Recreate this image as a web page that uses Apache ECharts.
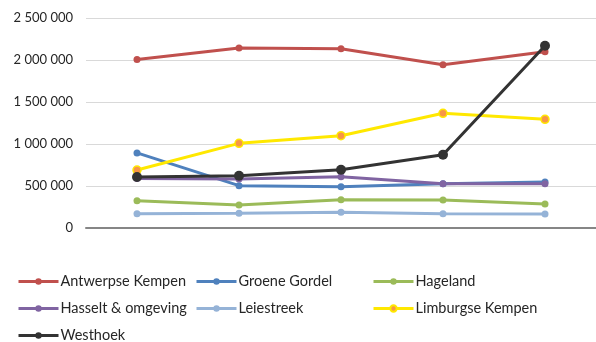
<!DOCTYPE html>
<html>
<head>
<meta charset="utf-8">
<script src="https://cdn.jsdelivr.net/npm/echarts@6/dist/echarts.min.js"></script>
<style>
  html, body { margin: 0; padding: 0; background: #ffffff; }
  #chart { width: 596px; height: 342px; }
</style>
</head>
<body>
<div id="chart"></div>
<script>
// Five periods along the x axis (labels are not shown)
const categories = ['P1', 'P2', 'P3', 'P4', 'P5'];

const yTicks = [0, 500000, 1000000, 1500000, 2000000, 2500000];

const antwerpseKempen = [2006000, 2143000, 2135000, 1944000, 2099000];
const groeneGordel    = [894000, 504000, 492000, 527000, 548000];
const hageland        = [325000, 274000, 337000, 333000, 286000];
const hasseltOmgeving = [588000, 583000, 611000, 527000, 527000];
const leiestreek      = [170000, 175000, 187000, 170000, 167000];
const limburgseKempen = [690000, 1008000, 1099000, 1365000, 1294000];
const westhoek        = [607000, 623000, 694000, 873000, 2170000];

const seriesNames = [
  'Antwerpse Kempen', 'Groene Gordel', 'Hageland',
  'Hasselt & omgeving', 'Leiestreek', 'Limburgse Kempen', 'Westhoek'
];

function fmt(v) {
  return String(v).replace(/\B(?=(\d{3})+(?!\d))/g, ' ');
}

function lineSeries(name, data, color, opts) {
  opts = opts || {};
  return {
    name: name,
    type: 'line',
    data: data,
    symbol: 'circle',
    symbolSize: opts.symbolSize || 7,
    showSymbol: true,
    lineStyle: { color: color, width: 3 },
    itemStyle: {
      color: opts.markerColor || color,
      borderColor: opts.markerBorder || color,
      borderWidth: opts.markerBorder ? 1.5 : 0
    },
    emphasis: { disabled: true },
    animation: false,
    z: opts.z || 2
  };
}

// Legend laid out as a 3-column grid: one legend component per entry
const legendCols = [17, 195, 372];
const legendRows = [274, 301, 328];
function legendItem(name, col, row) {
  return {
    left: legendCols[col],
    top: legendRows[row],
    itemWidth: 40,
    itemHeight: 8,
    padding: 0,
    data: [name],
    lineStyle: { width: 3 },
    textStyle: { fontFamily: 'Lato', fontSize: 14.5, color: '#262626', padding: [0, 0, 0, -3] },
    selectedMode: false
  };
}

const chart = echarts.init(document.getElementById('chart'), null, { renderer: 'canvas' });
chart.setOption({
  backgroundColor: '#ffffff',
  animation: false,
  grid: { left: 86, right: -6, top: 18, bottom: 114 },
  xAxis: {
    type: 'category',
    data: categories,
    boundaryGap: true,
    axisLine: { lineStyle: { color: '#868686', width: 2 } },
    axisTick: { show: false },
    axisLabel: { show: false }
  },
  yAxis: {
    type: 'value',
    min: yTicks[0],
    max: yTicks[yTicks.length - 1],
    interval: yTicks[1] - yTicks[0],
    axisLine: { show: false },
    axisTick: { show: false },
    splitLine: { lineStyle: { color: '#d9d9d9', width: 1 } },
    axisLabel: {
      margin: 13,
      fontFamily: 'Lato',
      fontSize: 13,
      color: '#262626',
      formatter: fmt
    }
  },
  legend: [
    legendItem(seriesNames[0], 0, 0),
    legendItem(seriesNames[1], 1, 0),
    legendItem(seriesNames[2], 2, 0),
    legendItem(seriesNames[3], 0, 1),
    legendItem(seriesNames[4], 1, 1),
    legendItem(seriesNames[5], 2, 1),
    legendItem(seriesNames[6], 0, 2)
  ],
  series: [
    lineSeries(seriesNames[0], antwerpseKempen, '#c0504d'),
    lineSeries(seriesNames[1], groeneGordel, '#4f81bd'),
    lineSeries(seriesNames[2], hageland, '#9bbb59'),
    lineSeries(seriesNames[3], hasseltOmgeving, '#8064a2'),
    lineSeries(seriesNames[4], leiestreek, '#95b3d7'),
    lineSeries(seriesNames[5], limburgseKempen, '#ffe800', { markerColor: '#f79646', markerBorder: '#ffe800', symbolSize: 8 }),
    lineSeries(seriesNames[6], westhoek, '#333333', { symbolSize: 10, z: 3 })
  ]
});
</script>
</body>
</html>
